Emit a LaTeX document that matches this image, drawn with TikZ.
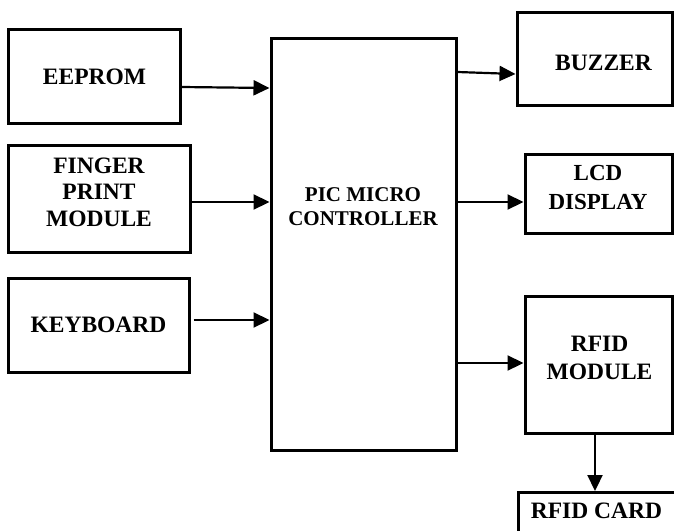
\documentclass[tikz,border=0pt]{standalone}
\usepackage{fontspec}
\setmainfont{Liberation Serif}
\usetikzlibrary{arrows.meta}
\begin{document}
\begin{tikzpicture}[x=1pt,y=-1pt,
  blk/.style={draw=black,line width=3pt,fill=white,inner sep=0pt},
  lbl/.style={font=\bfseries\fontsize{23.5}{26.5}\selectfont,align=center,inner sep=0pt},
  arr/.style={line width=2.2pt,-{Triangle[length=16pt,width=15pt]}}]
\clip (0,0) rectangle (674,530);
\fill[white] (0,0) rectangle (674,530);
% boxes
\node[blk,minimum width=172pt,minimum height=94pt] (eeprom) at (94,76) {};
\node[blk,minimum width=182pt,minimum height=107pt] (finger) at (99,198.5) {};
\node[blk,minimum width=181pt,minimum height=94pt] (keyb) at (98.5,325) {};
\node[blk,minimum width=185pt,minimum height=412pt] (pic) at (363.5,244) {};
\node[blk,minimum width=155pt,minimum height=93pt] (buzz) at (594.5,58.5) {};
\node[blk,minimum width=147pt,minimum height=79pt] (lcd) at (598.5,193.5) {};
\node[blk,minimum width=147pt,minimum height=137pt] (rfid) at (598.5,364.5) {};
\node[blk,minimum width=170pt,minimum height=80pt,anchor=north west] (card) at (517,491) {};
% labels
\node[lbl] (teeprom) at (94.5,77) {EEPROM};
\node[lbl] (tfinger) at (99,192) {FINGER\\PRINT\\MODULE};
\node[lbl] (tkeyb) at (98.5,325) {KEYBOARD};
\node[lbl,font=\bfseries\fontsize{21}{24}\selectfont] (tpic) at (363,207) {PIC MICRO\\CONTROLLER};
\node[lbl] (tbuzz) at (603.5,63) {BUZZER};
\node[lbl,font=\bfseries\fontsize{23}{29}\selectfont] (tlcd) at (598,187.5) {LCD\\DISPLAY};
\node[lbl,font=\bfseries\fontsize{23.5}{28}\selectfont] (trfid) at (599.5,358) {RFID\\MODULE};
\node[lbl] (tcard) at (596.5,511) {RFID CARD};
% connectors
\draw[arr] (eeprom.east |- 0,87) -- (pic.west |- 0,88);
\draw[arr] (finger.east |- 0,202) -- (pic.west |- 0,202);
\draw[arr] ([xshift=3pt]keyb.east |- 0,320) -- (pic.west |- 0,320);
\draw[arr] (pic.east |- 0,72) -- (buzz.west |- 0,74);
\draw[arr] (pic.east |- 0,202) -- (lcd.west |- 0,202);
\draw[arr] (pic.east |- 0,363) -- (rfid.west |- 0,363);
\draw[arr] (rfid.south -| 595,0) -- (card.north -| 595,0);
\end{tikzpicture}
\end{document}
